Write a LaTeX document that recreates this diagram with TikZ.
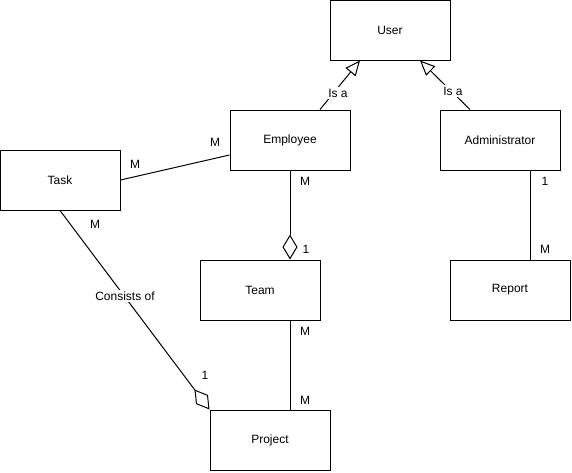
\documentclass[tikz,border=0pt]{standalone}
\usepackage{fontspec}
\setmainfont{Liberation Sans}
\usetikzlibrary{arrows.meta,calc}

\begin{document}
\begin{tikzpicture}[
    x=0.75pt, y=-0.75pt,
    font=\fontsize{9pt}{11pt}\selectfont,
    entity/.style={draw, line width=0.75pt, fill=white, minimum width=90pt, minimum height=45pt, inner sep=0pt},
    link/.style={draw, line width=0.75pt},
    isa/.style={link, -{Triangle[open, length=11.25pt, width=9.75pt, line width=0.75pt]}},
    agg/.style={link, {Diamond[open, length=18.75pt, width=11.25pt, line width=0.75pt]}-},
    lbl/.style={fill=white, inner sep=1pt},
    mult/.style={inner sep=0pt}
  ]
  \useasboundingbox (0,0) rectangle (572,472);

  % entities
  \node[entity] (user)  at (390,30)  {User};
  \node[entity] (emp)   at (290,140) {Employee};
  \node[entity] (admin) at (500,140) {Administrator};
  \node[entity] (task)  at (60,180)  {Task};
  \node[entity] (team)  at (260,290) {Team};
  \node[entity] (rep)   at (510,290) {Report};
  \node[entity] (proj)  at (270,440) {Project};

  % anchor points on the box edges
  \coordinate (empTop)   at ($(emp.north)+(30,0)$);
  \coordinate (userBL)   at ($(user.south)+(-30,0)$);
  \coordinate (adminTop) at ($(admin.north)+(-30,0)$);
  \coordinate (userBR)   at ($(user.south)+(30,0)$);
  \coordinate (empLeft)  at ($(emp.west)+(0,15)$);
  \coordinate (teamTop)  at ($(team.north)+(30,0)$);
  \coordinate (teamBot)  at ($(team.south)+(30,0)$);
  \coordinate (projTop)  at ($(proj.north)+(20,0)$);
  \coordinate (adminBot) at ($(admin.south)+(30,0)$);
  \coordinate (repTop)   at ($(rep.north)+(20,0)$);

  % generalisation
  \draw[isa] (empTop) -- (userBL);
  \draw[isa] (adminTop) -- (userBR);
  \node[lbl] (isa1) at (338,93) {Is a};
  \node[lbl] (isa2) at (453,91) {Is a};

  % associations
  \draw[link] (task.east) -- (empLeft);
  \draw[agg] (teamTop) -- (emp.south -| teamTop);
  \draw[link] (teamBot) -- (projTop);
  \draw[link] (adminBot) -- (repTop);
  \draw[agg] (proj.north west) -- (task.south);
  \node[lbl] (cons) at (125,296) {Consists of};

  % multiplicities
  \node[mult] (m1)  at (135,164) {M};
  \node[mult] (m2)  at (215,142) {M};
  \node[mult] (m3)  at (95,224)  {M};
  \node[mult] (m4)  at (205,375) {1};
  \node[mult] (m5)  at (305,181) {M};
  \node[mult] (m6)  at (306,249) {1};
  \node[mult] (m7)  at (305,331) {M};
  \node[mult] (m8)  at (305,400) {M};
  \node[mult] (m9)  at (545,181) {1};
  \node[mult] (m10) at (545,249) {M};
\end{tikzpicture}
\end{document}
